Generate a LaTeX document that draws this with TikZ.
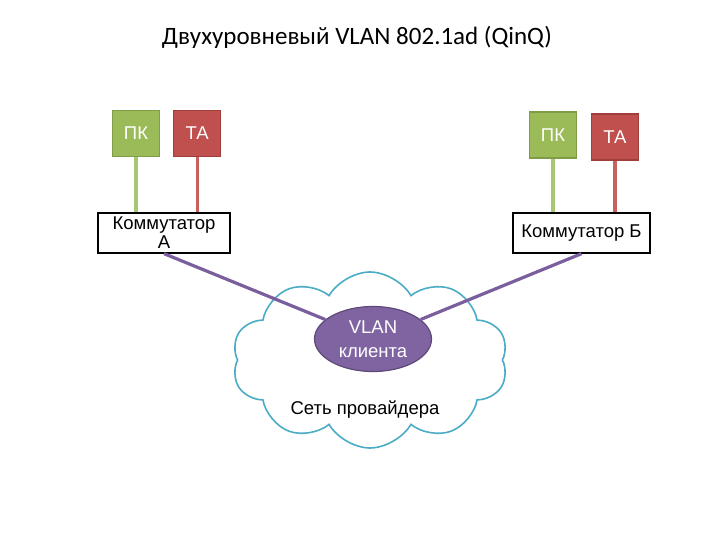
\documentclass[tikz,border=0pt]{standalone}
\usepackage{fontspec}
\setmainfont{Liberation Sans}
\newfontfamily\titlefont{Carlito}
\usepackage{xcolor}
\usetikzlibrary{shapes.symbols, shapes.geometric, positioning}

\definecolor{pcgreen}{HTML}{9BBB59}
\definecolor{pcedge}{HTML}{7F9C47}
\definecolor{tared}{HTML}{C0504D}
\definecolor{taedge}{HTML}{A03E3B}
\definecolor{vlanfill}{HTML}{8064A2}
\definecolor{vlanedge}{HTML}{5D4A78}
\definecolor{cloudblue}{HTML}{4BACC6}
\definecolor{linkpurple}{HTML}{7B5E9E}

\begin{document}
\begin{tikzpicture}[x=1pt, y=-1pt, font=\fontsize{18.5}{19}\selectfont,
    pc/.style={draw=pcedge, fill=pcgreen, line width=1.2pt, text=white, minimum width=47pt, minimum height=46pt, inner sep=0pt},
    ta/.style={pc, draw=taedge, fill=tared},
    switch/.style={draw, fill=white, line width=1.3pt, minimum height=40pt, inner sep=0pt, align=center},
    vlan/.style={ellipse, draw=vlanedge, fill=vlanfill, line width=1.2pt, text=white, font=\fontsize{18.5}{24}\selectfont, minimum width=117pt, minimum height=65pt, inner sep=0pt, align=center},
    pclink/.style={line width=3.2pt, color=pcgreen!85!white},
    talink/.style={line width=3.2pt, color=tared!90!white},
    link/.style={line width=3.2pt, color=linkpurple}]
    \useasboundingbox (0,0) rectangle (720,540);

    \node[font=\titlefont\fontsize{25}{28}\selectfont] (title) at (357,37) {Двухуровневый VLAN 802.1ad (QinQ)};

    % provider network
    \node[cloud, draw=cloudblue, fill=white, line width=1.6pt, cloud puffs=10, cloud puff arc=120, minimum width=276pt, minimum height=176pt] (net) at (370,360) {};
    \node (netLbl) at (365,410) {Сеть провайдера};

    % switches
    \node[switch, minimum width=132pt] (swA) at (164,233) {Коммутатор\\А};
    \node[switch, minimum width=137pt] (swB) at (581.5,233) {Коммутатор Б};

    % end devices
    \node[pc] (pcA) at (136,133.5) {ПК};
    \node[ta, right=13pt of pcA] (taA) {ТА};
    \node[pc] (pcB) at (553,135) {ПК};
    \node[ta] (taB) at (615,137) {ТА};

    \node[vlan] (vlan) at (373,339) {VLAN\\клиента};

    \draw[pclink] (pcA.south) -- (pcA.south |- swA.north);
    \draw[talink] (taA.south) -- (taA.south |- swA.north);
    \draw[pclink] (pcB.south) -- (pcB.south |- swB.north);
    \draw[talink] (taB.south) -- (taB.south |- swB.north);

    \draw[link] (swA.south) -- (vlan);
    \draw[link] (swB.south) -- (vlan);
\end{tikzpicture}
\end{document}
